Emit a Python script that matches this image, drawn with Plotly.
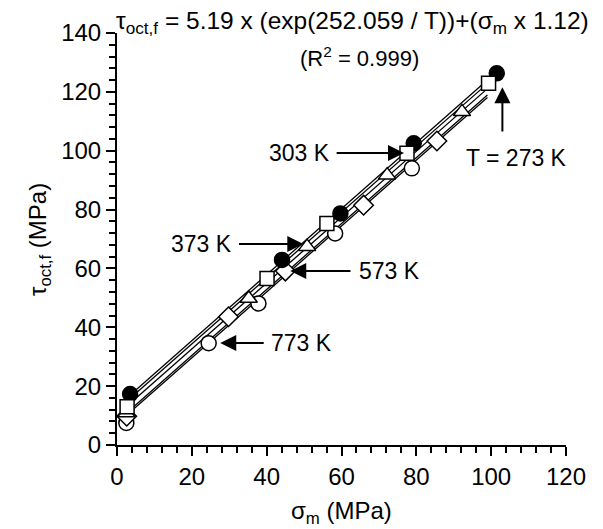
import plotly.graph_objects as go

# ---- data ----
x_273 = [3.5, 44.1, 59.7, 79.3, 101.5]
y_273 = [17.3, 62.9, 78.7, 102.5, 126.3]

x_303 = [2.7, 40.1, 56.1, 77.5, 99.3]
y_303 = [13.0, 56.6, 75.3, 99.1, 122.9]

x_373 = [2.5, 35.2, 50.8, 72.2, 92.2]
y_373 = [10.9, 49.8, 67.4, 91.7, 113.2]

x_573 = [2.6, 29.8, 45.0, 65.9, 85.5]
y_573 = [9.8, 43.6, 59.1, 81.5, 103.3]

x_773 = [2.5, 24.5, 37.8, 58.3, 78.8]
y_773 = [7.5, 34.6, 48.1, 71.9, 94.0]

line_x = [3.0, 99.0]
line_273 = [16.4, 124.0]
line_303 = [15.3, 122.8]
line_373 = [13.6, 121.1]
line_573 = [11.4, 118.9]
line_773 = [10.6, 118.1]

FONT = "Liberation Sans, Arial, sans-serif"
TICK_SIZE = 24

fig = go.Figure()

for ly in [line_273, line_303, line_373, line_573, line_773]:
    fig.add_trace(go.Scatter(x=line_x, y=ly, mode="lines",
                             line=dict(color="black", width=1.3),
                             showlegend=False, hoverinfo="skip"))

mk_line = dict(color="black", width=1.5)
fig.add_trace(go.Scatter(x=x_773, y=y_773, mode="markers", showlegend=False,
                         marker=dict(symbol="circle", size=15, color="white", line=mk_line)))
fig.add_trace(go.Scatter(x=x_573, y=y_573, mode="markers", showlegend=False,
                         marker=dict(symbol="diamond", size=15, color="white", line=mk_line)))
fig.add_trace(go.Scatter(x=x_373, y=y_373, mode="markers", showlegend=False,
                         marker=dict(symbol="triangle-up", size=15, color="white", line=mk_line)))
fig.add_trace(go.Scatter(x=x_273, y=y_273, mode="markers", showlegend=False,
                         marker=dict(symbol="circle", size=15, color="black", line=mk_line)))
fig.add_trace(go.Scatter(x=x_303, y=y_303, mode="markers", showlegend=False,
                         marker=dict(symbol="square", size=14, color="white", line=mk_line)))

# arrow annotations: (label, text_x, text_y, head_x, head_y, tail_x, tail_y)
arrows = [
    ("303 K", 48.7, 99.2, 76.7, 99.2, 58.3, 99.2),
    ("T = 273 K", 106.7, 97.5, 103.0, 121.6, 103.0, 106.0),
    ("373 K", 22.5, 68.3, 49.8, 68.3, 32.2, 68.3),
    ("573 K", 72.7, 59.1, 46.3, 59.1, 62.8, 59.1),
    ("773 K", 49.3, 34.7, 27.6, 34.7, 39.6, 34.7),
]
for label, tx, ty, hx, hy, sx, sy in arrows:
    fig.add_annotation(x=tx, y=ty, xref="x", yref="y", text=label, showarrow=False,
                       xanchor="center", yanchor="middle",
                       font=dict(family=FONT, size=23, color="black"))
    fig.add_annotation(x=hx, y=hy, ax=sx, ay=sy, xref="x", yref="y", axref="x", ayref="y",
                       text="", showarrow=True, arrowhead=2, arrowsize=1.6, arrowwidth=2,
                       arrowcolor="black")

fig.add_annotation(x=0.524, y=1.0243, xref="paper", yref="paper", showarrow=False,
                   xanchor="center", yanchor="middle", borderpad=0,
                   text="τ<sub>oct,f</sub> = 5.19 x (exp(252.059 / T))+(σ<sub>m</sub> x 1.12)",
                   font=dict(family=FONT, size=24.5, color="black"))
fig.add_annotation(x=0.541, y=0.942, xref="paper", yref="paper", showarrow=False,
                   xanchor="center", yanchor="middle",
                   text="(R<sup>2</sup> = 0.999)",
                   font=dict(family=FONT, size=22, color="black"))

# axis titles
fig.add_annotation(x=0.5, y=-0.163, xref="paper", yref="paper", showarrow=False,
                   xanchor="center", yanchor="middle",
                   text="σ<sub>m</sub> (MPa)", font=dict(family=FONT, size=24, color="black"))
fig.add_annotation(x=-0.171, y=0.498, xref="paper", yref="paper", showarrow=False,
                   xanchor="center", yanchor="middle", textangle=-90,
                   text="τ<sub>oct,f</sub> (MPa)", font=dict(family=FONT, size=24, color="black"))

axis_common = dict(showgrid=False, zeroline=False, showline=True, linecolor="black",
                   linewidth=2, ticks="outside", ticklen=9, tickwidth=2, tickcolor="black",
                   automargin=False,
                   tickfont=dict(family=FONT, size=TICK_SIZE, color="black"),
                   minor=dict(ticks="outside", ticklen=6, tickwidth=2, tickcolor="black", dtick=4))

fig.update_xaxes(range=[0, 120], dtick=20, tick0=0, **axis_common)
fig.update_yaxes(range=[0, 140], dtick=20, tick0=0, **axis_common)

# page body adds an 8px offset; figure sized to fit the 603x529 window
fig.update_layout(width=595, height=521, plot_bgcolor="white", paper_bgcolor="white",
                  margin=dict(l=109, r=37, t=25, b=84), showlegend=False)

fig.write_html("out.html")
